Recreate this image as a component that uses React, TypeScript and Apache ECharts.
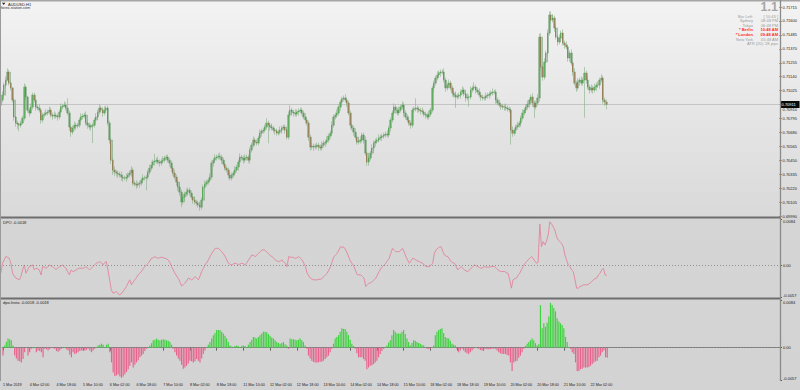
import React, { useEffect, useRef } from "react";
import * as echarts from "echarts";

// ---------- texts ----------
const SYMBOL_TEXT = "AUDUSD,H1";
const SOURCE_TEXT = "forex-station.com";
const FIRST_DATE_LABEL = "1 Mar 2019";
const VERSION_TEXT = "1.1";
const infoNames = ["Bar Left:", "Sydney", "Tokyo", "* Berlin", "* London", "New York"];
const infoValues = ["[ 10:43 ]", "08:48 PM", "06:48 PM", "10:48 AM", "09:48 AM", "05:48 AM"];
const infoHighlighted = [false, false, false, true, true, false];
const ATR_TEXT = "ATR (20): 28 pips";
const DPO_NAME = "DPO";
const HISTO_NAME = "dpo-histo";

// ---------- time axis (H1 bars, trading sessions) ----------
const sessions: [string, number, number][] = [
  ["1 Mar", 10, 23],
  ["4 Mar", 0, 23], ["5 Mar", 0, 23], ["6 Mar", 0, 23], ["7 Mar", 0, 23], ["8 Mar", 0, 23],
  ["11 Mar", 0, 23], ["12 Mar", 0, 23], ["13 Mar", 0, 23], ["14 Mar", 0, 23], ["15 Mar", 0, 23],
  ["18 Mar", 0, 23], ["19 Mar", 0, 23], ["20 Mar", 0, 23], ["21 Mar", 0, 23],
  ["22 Mar", 0, 12],
];

// ---------- price data ----------
const firstOpen = 0.70905;
const closes = [
  0.70947,0.70988,0.71071,0.71112,0.71178,0.71087,0.71046,0.70947,0.70807,0.70757,
  0.70749,0.70740,0.70757,0.70798,0.71054,0.70972,0.70864,0.70840,0.70889,0.70988,
  0.70947,0.70889,0.70881,0.70864,0.70782,0.70823,0.70831,0.70840,0.70848,0.70864,
  0.70823,0.70815,0.70823,0.70815,0.70807,0.70848,0.70889,0.70897,0.70906,0.70881,
  0.70840,0.70724,0.70683,0.70716,0.70740,0.70732,0.70740,0.70782,0.70807,0.70815,
  0.70823,0.70757,0.70740,0.70724,0.70732,0.70740,0.70782,0.70807,0.70848,0.70881,
  0.70864,0.70840,0.70864,0.70881,0.70757,0.70617,0.70451,0.70369,0.70352,0.70344,
  0.70336,0.70328,0.70311,0.70303,0.70303,0.70311,0.70328,0.70344,0.70369,0.70261,
  0.70253,0.70245,0.70253,0.70261,0.70286,0.70303,0.70303,0.70311,0.70352,0.70385,
  0.70410,0.70435,0.70443,0.70451,0.70435,0.70427,0.70443,0.70451,0.70468,0.70476,
  0.70451,0.70427,0.70385,0.70344,0.70311,0.70270,0.70228,0.70187,0.70105,0.70146,
  0.70171,0.70187,0.70204,0.70179,0.70146,0.70121,0.70105,0.70096,0.70080,0.70063,
  0.70121,0.70228,0.70253,0.70270,0.70286,0.70311,0.70427,0.70451,0.70468,0.70476,
  0.70484,0.70476,0.70451,0.70418,0.70385,0.70369,0.70328,0.70303,0.70328,0.70344,
  0.70369,0.70394,0.70435,0.70476,0.70468,0.70451,0.70468,0.70476,0.70451,0.70534,
  0.70575,0.70617,0.70600,0.70592,0.70633,0.70674,0.70691,0.70699,0.70724,0.70757,
  0.70740,0.70724,0.70716,0.70699,0.70691,0.70674,0.70683,0.70699,0.70716,0.70724,
  0.70699,0.70641,0.70823,0.70864,0.70848,0.70840,0.70831,0.70848,0.70856,0.70864,
  0.70840,0.70807,0.70782,0.70757,0.70641,0.70559,0.70567,0.70559,0.70567,0.70575,
  0.70559,0.70551,0.70575,0.70592,0.70600,0.70617,0.70650,0.70674,0.70740,0.70807,
  0.70823,0.70840,0.70889,0.70930,0.70955,0.70964,0.70947,0.70922,0.70840,0.70740,
  0.70716,0.70683,0.70641,0.70600,0.70608,0.70617,0.70658,0.70617,0.70509,0.70435,
  0.70468,0.70509,0.70551,0.70592,0.70608,0.70617,0.70633,0.70641,0.70650,0.70658,
  0.70666,0.70658,0.70716,0.70782,0.70840,0.70889,0.70864,0.70840,0.70864,0.70889,
  0.70906,0.70840,0.70807,0.70782,0.70757,0.70740,0.70864,0.70873,0.70881,0.70873,
  0.70864,0.70856,0.70848,0.70831,0.70823,0.70807,0.70831,0.70864,0.71046,0.71087,
  0.71129,0.71153,0.71170,0.71178,0.71178,0.71112,0.71046,0.71071,0.71087,0.71046,
  0.71005,0.70988,0.70972,0.70980,0.70988,0.71013,0.71030,0.70997,0.70964,0.70972,
  0.70972,0.71030,0.71046,0.71054,0.71030,0.71013,0.70988,0.70972,0.70964,0.70964,
  0.70980,0.70988,0.70997,0.71005,0.71013,0.71013,0.70947,0.70922,0.70906,0.70897,
  0.70889,0.70889,0.70881,0.70873,0.70864,0.70699,0.70674,0.70699,0.70724,0.70740,
  0.70757,0.70798,0.70840,0.70864,0.70889,0.70914,0.70947,0.70972,0.70922,0.70889,
  0.70922,0.70964,0.71467,0.71220,0.71137,0.71261,0.71335,0.71500,0.71649,0.71608,
  0.71624,0.71542,0.71467,0.71426,0.71459,0.71500,0.71418,0.71401,0.71385,0.71294,
  0.71335,0.71253,0.71178,0.71087,0.71046,0.71096,0.71112,0.71087,0.71112,0.71170,
  0.71112,0.71054,0.71030,0.71046,0.71030,0.71054,0.71071,0.71071,0.71112,0.71129,
  0.70947,0.70930,0.70911,
];
// shadow lengths above / below the candle body, in pips
const upperWickPips = [
  2,3,2,3,3,2,2,1,2,1, 2,1,2,2,3,2,1,2,3,2, 2,1,2,3,1,2,2,3,2,3, 2,2,3,2,2,2,3,2,3,2,
  8,2,2,2,3,2,2,2,3,2, 2,3,2,2,2,2,2,3,2,3, 2,2,3,2,2,2,2,2,3,2, 2,2,3,2,2,3,2,2,3,2,
  2,3,2,2,2,3,2,2,2,3, 3,2,6,2,3,2,2,3,2,2, 2,2,2,2,3,2,2,3,2,3, 2,3,2,2,2,2,3,2,2,3,
  2,2,3,2,2,3,2,2,3,2, 2,3,2,2,3,2,2,3,2,2, 3,2,2,3,2,2,3,2,2,2, 2,3,2,2,2,3,2,2,2,4,
  2,2,3,2,2,2,2,3,2,2, 2,2,3,4,2,2,3,2,2,2, 2,2,3,2,2,2,3,2,2,2, 2,2,3,2,2,3,2,2,3,2,
  2,3,2,2,2,2,3,2,2,2, 2,2,3,2,2,3,2,2,3,2, 2,2,3,2,2,2,3,2,2,2, 2,3,2,2,2,3,2,2,3,2,
  3,2,2,2,3,2,2,2,8,2, 2,2,3,2,2,2,3,2,2,2, 2,3,2,2,2,3,2,2,3,2, 2,2,3,2,2,2,3,2,2,3,
  2,3,2,4,2,2,3,2,2,2, 3,2,2,2,3,2,2,2,3,2, 2,2,3,2,2,2,3,2,2,3, 2,2,3,2,2,3,2,2,3,2,
  2,3,3,3,2,3,2,3,3,3, 3,2,3,2,3,2,3,2,3,2, 2,3,2,3,2,3,2,3,2,5, 2,3,2,3,2,3,2,3,2,3,
  2,2,2,
];
const lowerWickPips = [
  3,2,2,2,1,2,2,2,3,3, 4,5,2,1,2,3,2,3,1,2, 2,3,2,2,3,2,2,1,2,2, 2,3,2,2,3,2,2,2,1,2,
  2,3,4,2,2,3,2,2,2,2, 2,2,3,2,3,14,2,2,2,2, 2,3,2,2,2,3,3,4,3,3, 3,2,3,3,2,3,2,2,3,2,
  2,3,2,3,2,2,2,10,2,2, 2,2,3,2,2,3,2,2,2,2, 2,3,3,2,2,3,3,3,4,2, 2,2,3,2,2,3,2,2,2,3,
  2,3,2,2,2,2,2,3,2,2, 2,2,3,2,2,2,3,2,2,2, 2,2,3,2,2,3,2,2,2,3, 2,2,3,2,2,2,3,2,2,2,
  15,3,2,2,3,2,2,2,3,2, 3,2,2,2,2,3,2,2,3,2, 2,2,3,2,3,3,2,3,2,2, 3,2,2,2,3,2,2,2,2,2,
  2,2,2,3,2,2,2,3,2,3, 2,3,2,2,2,2,2,3,2,3, 3,2,2,2,3,2,2,2,3,2, 2,2,2,3,2,2,3,2,2,2,
  2,3,2,2,2,3,2,2,2,3, 2,3,2,2,3,2,2,2,2,3, 2,2,2,3,2,2,3,2,2,2, 3,2,9,2,2,3,2,2,3,2,
  8,2,2,2,3,2,2,3,2,2, 2,2,3,2,2,2,3,2,2,3, 2,3,2,2,2,12,3,2,3,2, 2,3,2,2,2,2,3,2,3,9,
  2,2,3,3,3,2,2,3,2,3, 2,3,2,3,2,3,2,3,2,3, 3,2,3,2,3,2,3,2,2,31, 3,2,3,2,3,2,3,2,3,2,
  3,3,4,
];

// ---------- DPO values (line and histogram show the same indicator) ----------
const dpo = [
  -0.0014,0.0004,0.0010,0.0016,0.0015,0.0013,0.0004,-0.0014,-0.0019,-0.0023,
  -0.0024,-0.0026,-0.0020,-0.0008,0.0001,-0.0014,-0.0008,-0.0002,-0.0001,0.0001,
  -0.0008,-0.0005,-0.0006,-0.0008,-0.0017,-0.0002,-0.0003,-0.0005,-0.0003,0.0001,
  -0.0001,-0.0002,-0.0005,-0.0007,-0.0005,-0.0002,-0.0001,0.0001,-0.0003,-0.0005,
  -0.0012,-0.0017,-0.0008,-0.0011,-0.0010,-0.0008,-0.0006,-0.0005,-0.0005,-0.0005,
  -0.0004,-0.0002,-0.0005,-0.0008,-0.0005,-0.0002,0.0001,0.0004,0.0005,0.0007,
  0.0005,0.0001,0.0005,0.0007,-0.0008,-0.0026,-0.0044,-0.0050,-0.0049,-0.0047,
  -0.0051,-0.0053,-0.0051,-0.0047,-0.0043,-0.0038,-0.0032,-0.0026,-0.0035,-0.0030,
  -0.0026,-0.0022,-0.0017,-0.0014,-0.0011,-0.0006,-0.0002,0.0001,0.0004,0.0008,
  0.0013,0.0014,0.0016,0.0014,0.0013,0.0014,0.0015,0.0014,0.0013,0.0012,
  0.0010,0.0005,-0.0002,-0.0008,-0.0014,-0.0019,-0.0023,-0.0030,-0.0037,-0.0035,
  -0.0032,-0.0028,-0.0023,-0.0024,-0.0026,-0.0024,-0.0020,-0.0023,-0.0026,-0.0019,
  -0.0011,-0.0005,0.0001,0.0005,0.0010,0.0016,0.0022,0.0026,0.0031,0.0031,
  0.0031,0.0028,0.0025,0.0021,0.0016,0.0010,0.0004,0.0002,0.0001,0.0003,
  0.0004,0.0003,0.0001,0.0003,0.0004,0.0003,0.0001,0.0005,0.0010,0.0014,
  0.0019,0.0018,0.0016,0.0019,0.0022,0.0025,0.0028,0.0028,0.0027,0.0024,
  0.0021,0.0018,0.0016,0.0013,0.0010,0.0008,0.0007,0.0008,0.0010,0.0006,
  0.0004,-0.0002,0.0016,0.0015,0.0015,0.0014,0.0013,0.0014,0.0016,0.0013,
  0.0010,0.0004,-0.0002,-0.0014,-0.0019,-0.0023,-0.0025,-0.0026,-0.0026,-0.0026,
  -0.0025,-0.0025,-0.0023,-0.0020,-0.0017,-0.0014,-0.0008,-0.0002,0.0007,0.0016,
  0.0019,0.0022,0.0028,0.0034,0.0033,0.0033,0.0028,0.0022,0.0014,0.0007,
  0.0003,-0.0002,-0.0010,-0.0017,-0.0017,-0.0017,-0.0020,-0.0023,-0.0038,-0.0035,
  -0.0032,-0.0031,-0.0029,-0.0026,-0.0023,-0.0017,-0.0011,-0.0006,-0.0002,0.0001,
  0.0004,0.0009,0.0013,0.0022,0.0031,0.0028,0.0025,0.0025,0.0025,0.0028,
  0.0031,0.0024,0.0016,0.0010,0.0004,0.0008,0.0013,0.0012,0.0010,0.0008,
  0.0007,0.0005,0.0004,0.0001,-0.0002,-0.0002,-0.0002,0.0001,0.0004,0.0022,
  0.0028,0.0031,0.0033,0.0034,0.0026,0.0019,0.0017,0.0016,0.0012,0.0007,
  0.0005,0.0004,-0.0002,-0.0008,-0.0005,-0.0002,-0.0005,-0.0008,-0.0010,-0.0011,
  -0.0008,-0.0005,-0.0002,0.0001,-0.0001,-0.0002,-0.0004,-0.0005,-0.0004,-0.0002,
  -0.0003,-0.0003,-0.0003,-0.0002,-0.0002,-0.0002,-0.0005,-0.0008,-0.0010,-0.0011,
  -0.0011,-0.0011,-0.0013,-0.0014,-0.0026,-0.0041,-0.0026,-0.0024,-0.0023,-0.0018,
  -0.0014,-0.0008,-0.0002,0.0003,0.0007,0.0010,0.0013,0.0016,0.0013,0.0008,
  0.0004,0.0006,0.0075,0.0034,0.0043,0.0037,0.0044,0.0055,0.0079,0.0075,
  0.0070,0.0064,0.0052,0.0046,0.0043,0.0040,0.0034,0.0019,0.0010,0.0001,
  -0.0002,-0.0008,-0.0011,-0.0026,-0.0041,-0.0041,-0.0038,-0.0037,-0.0035,-0.0035,
  -0.0035,-0.0034,-0.0032,-0.0029,-0.0026,-0.0024,-0.0023,-0.0017,-0.0014,-0.0008,
  -0.0005,-0.0017,-0.0018,
];

// ---------- scales ----------
const PRICE_MIN = 0.6999;
const PRICE_STEP = 0.00115;
const PRICE_MAX = 0.71773;
const DPO_MIN = -0.0057;
const DPO_MAX = 0.0084;
const PIP = 0.0001;

// ---------- layout / style ----------
const FUTURE_SLOTS = 103; // empty chart shift on the right
const FONT = "'Liberation Sans', Arial, sans-serif";
const UP = "#2f9a2f";
const DOWN = "#8a5a2c";
const WICK = "rgba(128,170,128,0.55)";
const HIST_UP = "#3fd23f";
const HIST_DOWN = "#e8638d";
const DPO_LINE = "#e2859d";
const AXIS_TEXT = "#1a1a1a";
const SMALL = 4;
const TIME_FONT = 3.7;

export default function App() {
  const ref = useRef<HTMLDivElement>(null);

  useEffect(() => {
    if (!ref.current) return;
    const chart = echarts.init(ref.current, null, { renderer: "svg" });

    const categories: string[] = [];
    sessions.forEach(([d, a, b]) => {
      for (let h = a; h <= b; h++) categories.push(`${d} ${String(h).padStart(2, "0")}:00`);
    });
    const nBars = closes.length;
    const axisCats = categories.concat(Array.from({ length: FUTURE_SLOTS }, (_, k) => `\u2063${k}`));

    const opens = closes.map((_, i) => (i === 0 ? firstOpen : closes[i - 1]));
    const candles = closes.map((c, i) => {
      const o = opens[i];
      const hi = Math.max(o, c) + upperWickPips[i] * PIP;
      const lo = Math.min(o, c) - lowerWickPips[i] * PIP;
      return [o, c, lo, hi];
    });
    const bodies = closes.map((c, i) => {
      const o = opens[i];
      return [o, c, Math.min(o, c), Math.max(o, c)];
    });
    const lastIdx = nBars - 1;
    const lastClose = closes[lastIdx];
    const lastDpo = dpo[dpo.length - 1];

    const showIdx = (idx: number) => idx < nBars && idx % 16 === 0;

    const baseX = (gi: number, bottom: boolean) => ({
      type: "category",
      gridIndex: gi,
      data: axisCats,
      boundaryGap: true,
      axisLine: { show: bottom, lineStyle: { color: "#7c7c7c", width: 1 } },
      axisTick: {
        show: bottom,
        alignWithLabel: true,
        interval: (idx: number) => showIdx(idx),
        length: 3,
        lineStyle: { color: "#4a4a4a", width: 0.8 },
      },
      axisLabel: {
        show: bottom,
        interval: (idx: number) => showIdx(idx),
        formatter: (v: string, idx: number) => (idx === 0 ? FIRST_DATE_LABEL : v),
        fontSize: TIME_FONT,
        fontFamily: FONT,
        color: AXIS_TEXT,
        align: "left",
        margin: 2.5,
      },
      splitLine: { show: false },
    });

    const dpoAxis = (gi: number) => ({
      type: "value",
      gridIndex: gi,
      position: "right",
      min: DPO_MIN,
      max: DPO_MAX,
      axisLine: { show: false },
      axisTick: { show: true, customValues: [DPO_MIN, 0, DPO_MAX], length: 2, lineStyle: { color: "#555" } },
      axisLabel: {
        customValues: [DPO_MIN, 0, DPO_MAX],
        margin: 3,
        fontSize: SMALL,
        fontFamily: FONT,
        color: AXIS_TEXT,
        formatter: (v: number) =>
          Math.abs(v) < 1e-9 ? "0.00" : v > 0 ? `{t|${v.toFixed(4)}}` : `{b|${v.toFixed(4)}}`,
        rich: {
          t: { padding: [5, 0, 0, 0], fontSize: SMALL, fontFamily: FONT, color: AXIS_TEXT },
          b: { padding: [0, 0, 3, 0], fontSize: SMALL, fontFamily: FONT, color: AXIS_TEXT },
        },
      },
      splitLine: { show: false },
    });

    const zeroLine = {
      silent: true,
      symbol: ["none", "none"],
      label: { show: false },
      lineStyle: { color: "#8f8f8f", type: [1, 2], width: 1 },
      data: [{ yAxis: 0 }],
    };

    const txt = (text: string, x: number, y: number, extra: any = {}) => ({
      type: "text",
      x,
      y,
      z: 100,
      silent: true,
      style: {
        text,
        fontSize: SMALL,
        fontFamily: FONT,
        fill: "#1a1a1a",
        textVerticalAlign: "middle",
        ...extra,
      },
    });

    const infoGraphics: any[] = [];
    infoNames.forEach((n, k) => {
      const y = 16 + k * 4.6;
      const hl = infoHighlighted[k];
      const st = { textAlign: "right", fontSize: 4, fill: hl ? "#ff2b2b" : "#9b9b9b", fontWeight: hl ? "bold" : "normal" };
      infoGraphics.push(txt(n, 753, y, st));
      infoGraphics.push(txt(infoValues[k], 778, y, st));
    });

    const option: any = {
      animation: false,
      backgroundColor: "transparent",
      grid: [
        { left: 0, right: 20, top: 0, height: 216 },
        { left: 0, right: 20, top: 219, height: 78 },
        { left: 0, right: 20, top: 300, height: 80 },
      ],
      xAxis: [baseX(0, false), baseX(1, false), baseX(2, true)],
      yAxis: [
        {
          type: "value",
          gridIndex: 0,
          position: "right",
          min: PRICE_MIN,
          max: PRICE_MAX,
          interval: PRICE_STEP,
          axisLine: { show: false },
          axisTick: { show: true, length: 2, lineStyle: { color: "#555" } },
          axisLabel: {
            showMaxLabel: false,
            showMinLabel: true,
            margin: 3,
            fontSize: SMALL,
            fontFamily: FONT,
            color: AXIS_TEXT,
            formatter: (v: number) =>
              Math.abs(v - lastClose) < PRICE_STEP / 3 ? `{h|${v.toFixed(5)}}` : v.toFixed(5),
            rich: { h: { padding: [9, 0, 0, 0], fontSize: SMALL, fontFamily: FONT, color: AXIS_TEXT } },
          },
          splitLine: { show: false },
        },
        dpoAxis(1),
        dpoAxis(2),
      ],
      series: [
        {
          // full high-low range (pale shadows)
          type: "candlestick",
          xAxisIndex: 0,
          yAxisIndex: 0,
          data: candles,
          barWidth: 2.2,
          z: 2,
          itemStyle: { color: WICK, color0: WICK, borderColor: WICK, borderColor0: WICK, borderWidth: 1 },
        },
        {
          // candle bodies
          type: "candlestick",
          xAxisIndex: 0,
          yAxisIndex: 0,
          data: bodies,
          barWidth: 1,
          z: 3,
          itemStyle: { color: UP, color0: DOWN, borderColor: UP, borderColor0: DOWN, borderWidth: 0.6 },
        },
        {
          // current price line + price tag on the axis
          type: "custom",
          xAxisIndex: 0,
          yAxisIndex: 0,
          z: 1,
          silent: true,
          clip: false,
          data: [[lastIdx, lastClose]],
          renderItem: (params: any, api: any) => {
            const v = api.value(1);
            const y = Math.round(api.coord([api.value(0), v])[1]) + 0.5;
            const cs = params.coordSys;
            const right = cs.x + cs.width;
            return {
              type: "group",
              children: [
                { type: "line", z2: 1, shape: { x1: cs.x, y1: y, x2: right, y2: y }, style: { stroke: "#c4c4c4", lineWidth: 1 } },
                { type: "rect", z2: 10, shape: { x: right + 1, y: y - 3.5, width: 19, height: 7 }, style: { fill: "#0a0a0a" } },
                {
                  type: "text",
                  z2: 11,
                  x: right + 2,
                  y,
                  style: { text: v.toFixed(5), fill: "#ffffff", fontSize: SMALL, fontFamily: FONT, align: "left", verticalAlign: "middle" },
                },
              ],
            };
          },
        },
        {
          type: "line",
          xAxisIndex: 1,
          yAxisIndex: 1,
          data: dpo,
          showSymbol: false,
          lineStyle: { color: DPO_LINE, width: 0.9 },
          markLine: zeroLine,
        },
        {
          type: "bar",
          xAxisIndex: 2,
          yAxisIndex: 2,
          data: dpo.map((v) => ({ value: v, itemStyle: { color: v >= 0 ? HIST_UP : HIST_DOWN } })),
          barWidth: "70%",
          markLine: zeroLine,
        },
      ],
      graphic: [
        { type: "rect", z: 90, silent: true, shape: { x: 0, y: 0, width: 800, height: 1.5 }, style: { fill: "#a6a6a6" } },
        { type: "rect", z: 90, silent: true, shape: { x: 0, y: 216.6, width: 780, height: 2 }, style: { fill: "#6e6e6e" } },
        { type: "rect", z: 90, silent: true, shape: { x: 0, y: 297.6, width: 780, height: 2 }, style: { fill: "#6e6e6e" } },
        { type: "line", z: 90, silent: true, shape: { x1: 0.5, y1: 0, x2: 0.5, y2: 381 }, style: { stroke: "#9a9a9a", lineWidth: 1 } },
        { type: "line", z: 90, silent: true, shape: { x1: 780.5, y1: 0, x2: 780.5, y2: 381 }, style: { stroke: "#8a8a8a", lineWidth: 1.3 } },
        { type: "polygon", z: 100, silent: true, shape: { points: [[2, 2.8], [5.4, 2.8], [3.7, 5]] }, style: { fill: "#222" } },
        txt(SYMBOL_TEXT, 8, 4, { fontSize: 4 }),
        txt(SOURCE_TEXT, 1, 8.2, { fontSize: 3.8, fill: "#333" }),
        txt(VERSION_TEXT, 778, 7, { textAlign: "right", fontSize: 12.5, fontWeight: "bold", fill: "#a5a5a5" }),
        ...infoGraphics,
        txt(ATR_TEXT, 778, 43.6, { textAlign: "right", fontSize: 4, fill: "#9b9b9b" }),
        txt(`${DPO_NAME} ${lastDpo.toFixed(4)}`, 3, 222, {}),
        txt(`${HISTO_NAME} ${lastDpo.toFixed(4)} ${lastDpo.toFixed(4)}`, 3, 302.6, {}),
      ],
    };

    chart.setOption(option);
    return () => chart.dispose();
  }, []);

  return (
    <div
      ref={ref}
      style={{
        position: "fixed",
        left: 0,
        top: 0,
        width: 800,
        height: 390,
        background:
          "linear-gradient(to bottom, #f3f3f3 0px, #d9d9d9 217px, #d5d5d5 217px, #d3d3d3 390px)",
      }}
    />
  );
}
